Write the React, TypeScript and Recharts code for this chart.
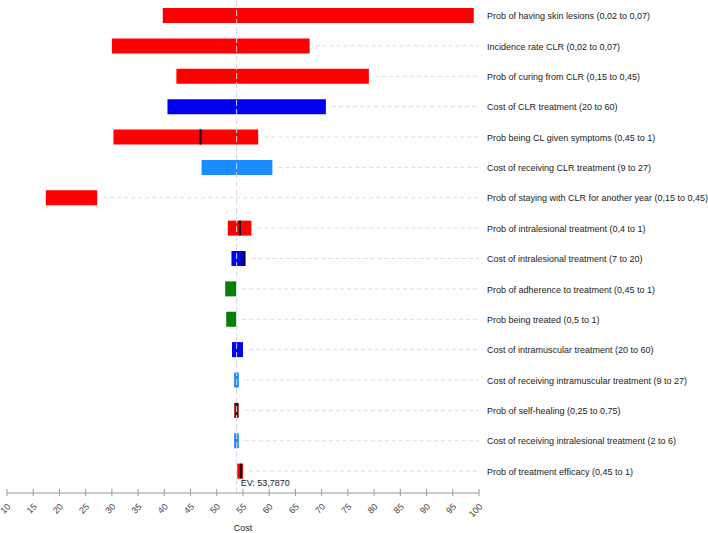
import React from 'react';
import { BarChart, Bar, XAxis, YAxis, Cell, ReferenceLine } from 'recharts';

const labels = [
  'Prob of having skin lesions (0,02 to 0,07)',
  'Incidence rate CLR (0,02 to 0,07)',
  'Prob of curing from CLR (0,15 to 0,45)',
  'Cost of CLR treatment (20 to 60)',
  'Prob being CL given symptoms (0,45 to 1)',
  'Cost  of receiving CLR treatment (9 to 27)',
  'Prob of staying with CLR for another year (0,15 to 0,45)',
  'Prob of intralesional treatment (0,4 to 1)',
  'Cost of intralesional treatment (7 to 20)',
  'Prob of adherence to treatment (0,45 to 1)',
  'Prob being treated (0,5 to 1)',
  'Cost of intramuscular treatment (20 to 60)',
  'Cost of receiving intramuscular treatment (9 to 27)',
  'Prob of self-healing (0,25 to 0,75)',
  'Cost of receiving intralesional treatment (2 to 6)',
  'Prob of treatment efficacy (0,45 to 1)',
];

const lows = [39.7, 30.0, 42.3, 40.6, 30.3, 47.1, 17.4, 52.1, 52.8, 51.6, 51.8, 52.9, 53.3, 53.3, 53.3, 53.9];
const highs = [99.0, 67.7, 79.0, 70.8, 57.9, 60.6, 27.2, 56.6, 55.5, 53.7, 53.7, 55.0, 54.2, 54.2, 54.2, 55.0];
const marks: (number | null)[] = [null, null, null, null, 46.9, null, null, 54.4, 55.1, null, null, null, null, 53.8, null, 54.6];

const RED = '#ff0000';
const BLUE = '#0000f0';
const LBLUE = '#1a8cff';
const GREEN = '#0a7d0a';
const DRED = '#a82020';
const colors = [RED, RED, RED, BLUE, RED, LBLUE, RED, RED, BLUE, GREEN, GREEN, BLUE, LBLUE, DRED, LBLUE, RED];

const EV = 53.787;
const EV_LABEL = 'EV: 53,7870';
const xTicks = [10, 15, 20, 25, 30, 35, 40, 45, 50, 55, 60, 65, 70, 75, 80, 85, 90, 95, 100];
const X_MIN = 10;
const X_MAX = 100;

const data = labels.map((label, i) => ({
  label,
  low: lows[i],
  high: highs[i],
  mark: marks[i],
}));

const XTick = (props: any) => {
  const { x, y, payload } = props;
  const ax = x + 2;
  const ay = y + 12;
  return (
    <g>
      <line x1={x} x2={x} y1={y - 4} y2={y + 3} stroke="#999" strokeWidth={1} />
      <text
        x={ax}
        y={ay}
        dy={3}
        textAnchor="end"
        fontSize={9}
        fill="#444"
        transform={`rotate(-45, ${ax}, ${ay})`}
      >
        {payload.value}
      </text>
    </g>
  );
};

const YTick = (props: any) => {
  const { x, y, payload } = props;
  return (
    <text x={x} y={y} dy={4} textAnchor="start" fontSize={9} fill="#222">
      {payload.value}
    </text>
  );
};

const GuideShape = (props: any) => {
  const { x, y, width, height } = props;
  if (width == null || width < 8) return null;
  const cy = y + height / 2;
  return (
    <line x1={x + 6} x2={x + width + 1} y1={cy} y2={cy} stroke="#dcdcdc" strokeDasharray="4 3" strokeWidth={1} />
  );
};

const MarkShape = (props: any) => {
  const { x, y, width, height, payload } = props;
  if (payload == null || payload.mark == null || !isFinite(x)) return null;
  return <rect x={x} y={y} width={Math.max(width, 2)} height={height} fill="#111" />;
};

const EvLabel = (props: any) => {
  const vb = props.viewBox || {};
  return (
    <text x={vb.x + 4} y={vb.y + vb.height - 7} fontSize={9} fill="#222">
      {EV_LABEL}
    </text>
  );
};

export default function App() {
  return (
    <div style={{ position: 'absolute', left: 0, top: 0, fontFamily: '"Liberation Sans", Arial, sans-serif', background: '#fff' }}>
      <BarChart
        width={708}
        height={533}
        data={data}
        layout="vertical"
        margin={{ top: 0, right: 0, bottom: 0, left: 7 }}
        barGap={-15}
        barSize={15}
      >
        <XAxis
          type="number"
          domain={[X_MIN, X_MAX]}
          ticks={xTicks}
          interval={0}
          allowDataOverflow
          height={40}
          tickLine={false}
          tickSize={0}
          tickMargin={0}
          tick={<XTick />}
          axisLine={{ stroke: '#999' }}
          label={{ value: 'Cost', position: 'insideBottom', offset: 2, fontSize: 9, fill: '#222' }}
        />
        <YAxis
          type="category"
          dataKey="label"
          orientation="right"
          width={229}
          interval={0}
          tickLine={false}
          axisLine={false}
          padding={{ top: 0, bottom: 7 }}
          tick={<YTick />}
        />
        <Bar
          dataKey={(d: any) => [d.high, X_MAX]}
          isAnimationActive={false}
          shape={<GuideShape />}
        />
        <Bar dataKey={(d: any) => [d.low, d.high]} isAnimationActive={false}>
          {data.map((_, i) => (
            <Cell key={i} fill={colors[i]} />
          ))}
        </Bar>
        <Bar
          dataKey={(d: any) => (d.mark == null ? [d.low, d.low] : [d.mark - 0.2, d.mark + 0.2])}
          isAnimationActive={false}
          shape={<MarkShape />}
        />
        <ReferenceLine x={EV} stroke="#d3d9e6" strokeDasharray="6 3" strokeWidth={1} label={<EvLabel />} />
      </BarChart>
    </div>
  );
}
